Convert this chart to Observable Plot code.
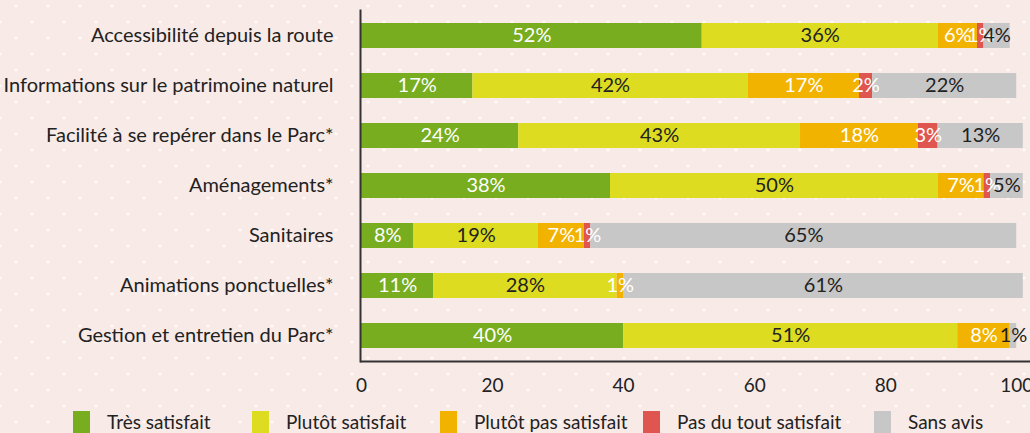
<!DOCTYPE html>
<html>
<head>
<meta charset="utf-8">
<script src="https://cdn.jsdelivr.net/npm/d3@7"></script>
<script src="https://cdn.jsdelivr.net/npm/@observablehq/plot@0.6"></script>
<style>
  html, body { margin: 0; padding: 0; }
  body {
    width: 1030px; height: 433px; overflow: hidden;
    background-color: #f8eae7;
    background-image:
      radial-gradient(circle, rgba(255,255,255,0.75) 1.3px, transparent 1.8px),
      radial-gradient(circle, rgba(255,255,255,0.75) 1.3px, transparent 1.8px);
    background-size: 32px 32px, 32px 32px;
    background-position: 0 -10px, 16px 6px;
    font-family: Lato, sans-serif;
    color: #222;
  }
  #chart svg { display: block; }
  .legend { position: relative; height: 33px; font-size: 19px; line-height: 22px; white-space: nowrap; }
  .legend .item { position: absolute; top: 11px; display: flex; align-items: flex-start; }
  .legend .sw { width: 17px; height: 22px; margin-right: 17px; flex-shrink: 0; }
</style>
</head>
<body>
<div id="chart"></div>
<div class="legend" id="legend"></div>
<script>
const categories = [
  "Accessibilité depuis la route",
  "Informations sur le patrimoine naturel",
  "Facilité à se repérer dans le Parc*",
  "Aménagements*",
  "Sanitaires",
  "Animations ponctuelles*",
  "Gestion et entretien du Parc*"
];
const seriesNames = ["Très satisfait", "Plutôt satisfait", "Plutôt pas satisfait", "Pas du tout satisfait", "Sans avis"];
const tresSatisfait   = [52, 17, 24, 38, 8, 11, 40];
const plutotSatisfait = [36, 42, 43, 50, 19, 28, 51];
const plutotPas       = [6, 17, 18, 7, 7, 1, 8];
const pasDuTout       = [1, 2, 3, 1, 1, 0, 0];
const sansAvis        = [4, 22, 13, 5, 65, 61, 1];
const seriesColors = ["#77ad1f", "#dedc20", "#f2b300", "#df554f", "#c7c7c7"];
const xTicks = [0, 20, 40, 60, 80, 100];

const seriesValues = [tresSatisfait, plutotSatisfait, plutotPas, pasDuTout, sansAvis];
const data = categories.flatMap((c, i) =>
  seriesNames.map((s, j) => ({category: c, series: s, value: seriesValues[j][i]}))
);
const darkLabelSeries = new Set(["Plutôt satisfait", "Sans avis"]);

const labelOpts = {x: "value", y: "category", z: "series", text: d => d.value + "%", fontSize: 20};

const chart = Plot.plot({
  width: 1030,
  height: 400,
  marginLeft: 361,
  marginRight: 0,
  marginTop: 10,
  marginBottom: 39,
  style: {fontFamily: "Lato, sans-serif", fontSize: "20px", background: "transparent", color: "#222"},
  x: {domain: [0, 102.1], axis: null},
  y: {domain: categories, paddingInner: 0.5, paddingOuter: 0.25, axis: null},
  color: {domain: seriesNames, range: seriesColors},
  marks: [
    Plot.barX(data, Plot.stackX({x: "value", y: "category", fill: "series"})),
    Plot.text(data, Plot.filter(d => d.value > 0 && !darkLabelSeries.has(d.series),
      Plot.stackX({...labelOpts, fill: "white"}))),
    Plot.text(data, Plot.filter(d => d.value > 0 && darkLabelSeries.has(d.series),
      Plot.stackX({...labelOpts, fill: "#222"}))),
    Plot.axisX({ticks: xTicks, tickSize: 0, tickPadding: 17, label: null, fontSize: 19, fill: "#222"}),
    Plot.axisY({tickSize: 0, tickPadding: 28, label: null, fontSize: 20, fill: "#222"}),
    Plot.frame({anchor: "bottom", stroke: "#333", strokeWidth: 2}),
    Plot.frame({anchor: "left", stroke: "#333", strokeWidth: 2, dx: -1})
  ]
});
document.getElementById("chart").appendChild(chart);

const legendLeft = [73, 252, 440, 643, 874];
const legend = document.getElementById("legend");
seriesNames.forEach((s, i) => {
  const item = document.createElement("div");
  item.className = "item";
  item.style.left = legendLeft[i] + "px";
  const sw = document.createElement("div");
  sw.className = "sw";
  sw.style.background = seriesColors[i];
  const label = document.createElement("span");
  label.textContent = s;
  item.appendChild(sw);
  item.appendChild(label);
  legend.appendChild(item);
});
</script>
</body>
</html>
